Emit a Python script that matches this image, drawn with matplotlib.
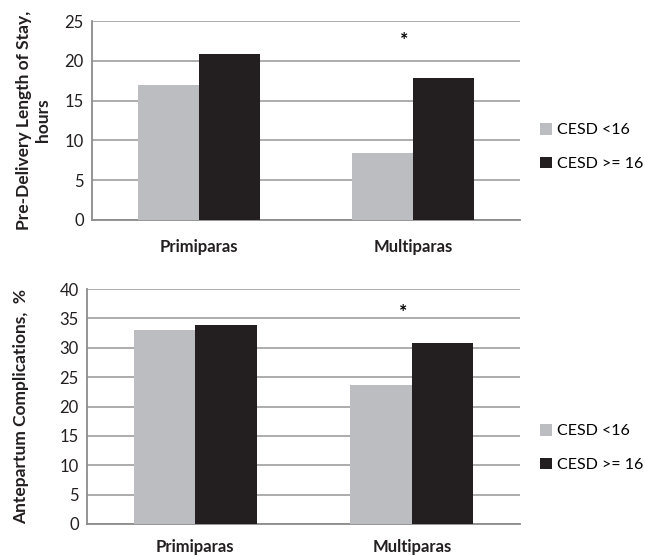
import numpy as np
import matplotlib.pyplot as plt

plt.rcParams['font.family'] = ['Lato', 'DejaVu Sans']

groups = ['Primiparas', 'Multiparas']
series = ['CESD <16', 'CESD >= 16']
stay_low = [16.9, 8.4]
stay_high = [20.8, 17.9]
comp_low = [33.0, 23.6]
comp_high = [33.8, 30.8]

grey = '#bcbdc0'
black = '#231f20'
gridc = '#a6a6a6'

fig = plt.figure(figsize=(6.45, 5.56), dpi=100)
ax1 = fig.add_axes([92/645, 1-220/556, 428/645, 199/556])
ax2 = fig.add_axes([87/645, 1-524/556, 433/645, 235/556])

def draw(ax, low, high, ymax, step, ylabel, star_y, leg_y, lpad, xpad):
    x = np.arange(len(groups))
    w = 0.285
    ax.bar(x - w/2, low, w, color=grey, label=series[0], zorder=3)
    ax.bar(x + w/2, high, w, color=black, label=series[1], zorder=3)
    ax.set_xlim(-0.5, 1.5)
    ax.set_ylim(0, ymax)
    ax.set_yticks(np.arange(0, ymax + 1, step))
    ax.yaxis.grid(True, color=gridc, linewidth=1.3, zorder=0)
    ax.set_axisbelow(True)
    for s in ['top', 'right']:
        ax.spines[s].set_visible(False)
    for s in ['left', 'bottom']:
        ax.spines[s].set_color('#8c8c8c')
        ax.spines[s].set_linewidth(1.3)
    ax.tick_params(length=0, labelsize=12, colors='#231f20', pad=6)
    ax.set_xticks(x)
    ax.set_xticklabels(groups, fontweight='bold', fontsize=12)
    ax.tick_params(axis='x', pad=xpad)
    ax.set_ylabel(ylabel, fontweight='bold', fontsize=12.5, color='#231f20', labelpad=lpad)
    ax.text(0.96, star_y, '*', ha='center', va='center', fontsize=14, fontweight='bold')
    ax.legend(loc='center left', bbox_to_anchor=(540/645, leg_y), bbox_transform=fig.transFigure,
              frameon=False, fontsize=11.5, handlelength=0.75, handleheight=0.75,
              handletextpad=0.3, labelspacing=1.2, borderaxespad=0, borderpad=0)

draw(ax1, stay_low, stay_high, 25, 5, 'Pre-Delivery Length of Stay,\nhours', 22.5, 1-147/556, 10, 14)
draw(ax2, comp_low, comp_high, 40, 5, 'Antepartum Complications,  %', 36.0, 1-448/556, 22, 11)

fig.savefig('out.png', dpi=100)
